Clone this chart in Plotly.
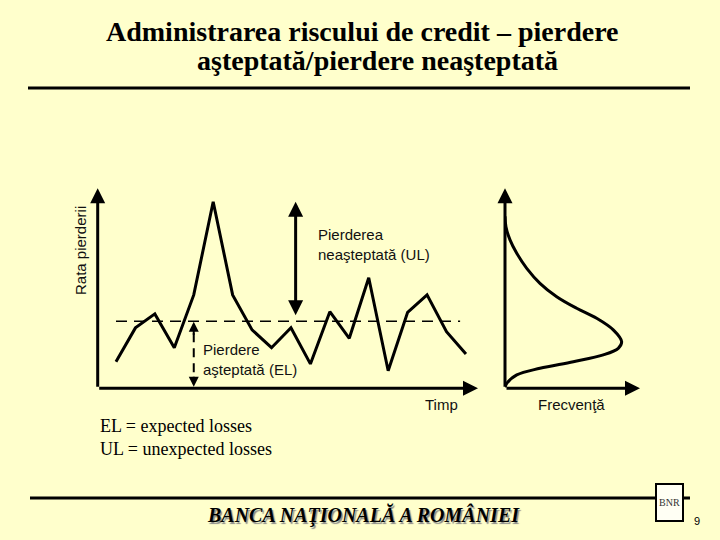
import plotly.graph_objects as go

# ---- data ----
periods = list(range(19))
loss_rate = [1.33, 3.02, 3.72, 2.03, 4.67, 9.33, 4.67, 2.92, 2.03, 3.03,
             1.22, 3.83, 2.50, 5.53, 0.88, 3.80, 4.67, 2.83, 1.72]
el_level = 3.35
ul_peak = 9.33

freq_x = [0.0, 0.07, 0.37, 0.87, 1.61, 2.59, 3.83, 5.31, 6.79, 8.02, 8.64,
          8.39, 7.28, 5.06, 2.59, 0.87, 0.13, 0.0]
freq_y = [8.6, 8.08, 7.42, 6.75, 6.0, 5.25, 4.58, 4.0, 3.5, 2.92, 2.33,
          2.0, 1.67, 1.33, 1.0, 0.67, 0.25, 0.05]

title_lines = ["Administrarea riscului de credit – pierdere",
               "aşteptată/pierdere neaşteptată"]
notes = ["EL = expected losses", "UL = unexpected losses"]
footer = "BANCA NAŢIONALĂ A ROMÂNIEI"

BG = "#FFFFCC"
W, H = 720, 540
SERIF = "Liberation Serif, Times New Roman, serif"
SANS = "Liberation Sans, Arial, sans-serif"


def px(x):
    return x / W


def py(y):
    return 1 - y / H


X_MIN, X_MAX = -0.94, 18.62
Y_MAX = 10.0

fig = go.Figure()

# main time series
fig.add_trace(go.Scatter(x=periods, y=loss_rate, mode="lines",
                         line=dict(color="black", width=3),
                         xaxis="x", yaxis="y", hoverinfo="skip"))
# expected loss dashed line
fig.add_trace(go.Scatter(x=[periods[0], periods[-1] - 0.3], y=[el_level, el_level],
                         mode="lines",
                         line=dict(color="black", width=1.5, dash="11px,7px"),
                         xaxis="x", yaxis="y", hoverinfo="skip"))
# EL arrow dashed shaft
EL_T = 4.0
fig.add_trace(go.Scatter(x=[EL_T, EL_T], y=[el_level - 0.6, 0.7], mode="lines",
                         line=dict(color="black", width=2, dash="9px,6px"),
                         xaxis="x", yaxis="y", hoverinfo="skip"))
# frequency curve
fig.add_trace(go.Scatter(x=freq_x, y=freq_y, mode="lines",
                         line=dict(color="black", width=3, shape="spline", smoothing=1),
                         xaxis="x2", yaxis="y2", hoverinfo="skip"))

ax_common = dict(showgrid=False, zeroline=False, showline=False,
                 showticklabels=False, ticks="", fixedrange=True)

fig.update_layout(
    width=W, height=H,
    margin=dict(l=0, r=0, t=0, b=0),
    paper_bgcolor=BG, plot_bgcolor=BG,
    showlegend=False,
    xaxis=dict(domain=[px(97.7), px(478)], range=[X_MIN, X_MAX], **ax_common),
    yaxis=dict(domain=[py(388.3), py(188.3)], range=[0, Y_MAX], **ax_common),
    xaxis2=dict(domain=[px(505), px(640)], range=[0, 10], anchor="y2", **ax_common),
    yaxis2=dict(domain=[py(388.3), py(188.3)], range=[0, Y_MAX], anchor="x2", **ax_common),
)

anns = []


def arrow(x, y, ax, ay, xr="x", yr="y", w=3, side="end", size=1.0):
    anns.append(dict(x=x, y=y, ax=ax, ay=ay, xref=xr, yref=yr, axref=xr, ayref=yr,
                     text="", showarrow=True, arrowhead=2, arrowside=side,
                     arrowwidth=w, arrowsize=size, arrowcolor="black",
                     startarrowhead=2, startarrowsize=size))


# axes arrows
arrow(X_MIN, Y_MAX, X_MIN, 0)
arrow(X_MAX, 0, X_MIN, 0)
arrow(0, Y_MAX, 0, 0, "x2", "y2")
arrow(10, 0, 0, 0, "x2", "y2")
# UL double arrow
arrow(9.24, ul_peak, 9.24, el_level + 0.23, side="end+start")
# EL arrow heads
arrow(EL_T, el_level - 0.02, EL_T, el_level - 0.75, w=2)
arrow(EL_T, 0.08, EL_T, 0.65, w=2)


def txt(x, y, text, font, xanchor="center", **kw):
    d = dict(x=px(x), y=py(y), xref="paper", yref="paper", text=text,
             showarrow=False, xanchor=xanchor, yanchor="middle", font=font)
    d.update(kw)
    anns.append(d)


label_font = dict(family=SANS, size=15, color="#111111")
txt(80, 251, "Rata pierderii", label_font, textangle=-90)
txt(316, 244, "Pierderea<br>neaşteptată (UL)", label_font, xanchor="left", align="left")
txt(201, 359, "Pierdere<br>aşteptată (EL)", label_font, xanchor="left", align="left")
txt(441, 404, "Timp", label_font)
txt(571, 404, "Frecvenţă", label_font)
title_font = dict(family=SERIF, size=28, color="black")
txt(362, 31.5, "<b>%s</b>" % title_lines[0], title_font)
txt(377, 61, "<b>%s</b>" % title_lines[1], title_font)
txt(98, 437, "<br>".join(notes), dict(family=SERIF, size=18, color="black"),
    xanchor="left", align="left")
txt(363.5, 514.5, "<b><i>%s</i></b>" % footer,
    dict(family=SERIF, size=20, color="black", shadow="1.5px 1.5px 1px #8a8a8a"))
txt(697, 521, "9", dict(family=SANS, size=11, color="black"))
txt(669.5, 502, "BNR", dict(family=SERIF, size=10, color="#333333"))
fig.update_layout(annotations=anns)

fig.update_layout(shapes=[
    dict(type="line", xref="paper", yref="paper", x0=px(28), x1=px(690),
         y0=py(88), y1=py(88), line=dict(color="black", width=3)),
    dict(type="line", xref="paper", yref="paper", x0=px(30), x1=px(690),
         y0=py(498), y1=py(498), line=dict(color="black", width=3)),
    dict(type="rect", xref="paper", yref="paper", x0=px(656), x1=px(683),
         y0=py(521), y1=py(484), line=dict(color="black", width=2),
         fillcolor="#FFFFF4"),
])

fig.write_html("out.html", config={"displayModeBar": False},
               post_script="document.body.style.margin='0';"
                           "document.body.style.background='%s';" % BG)
